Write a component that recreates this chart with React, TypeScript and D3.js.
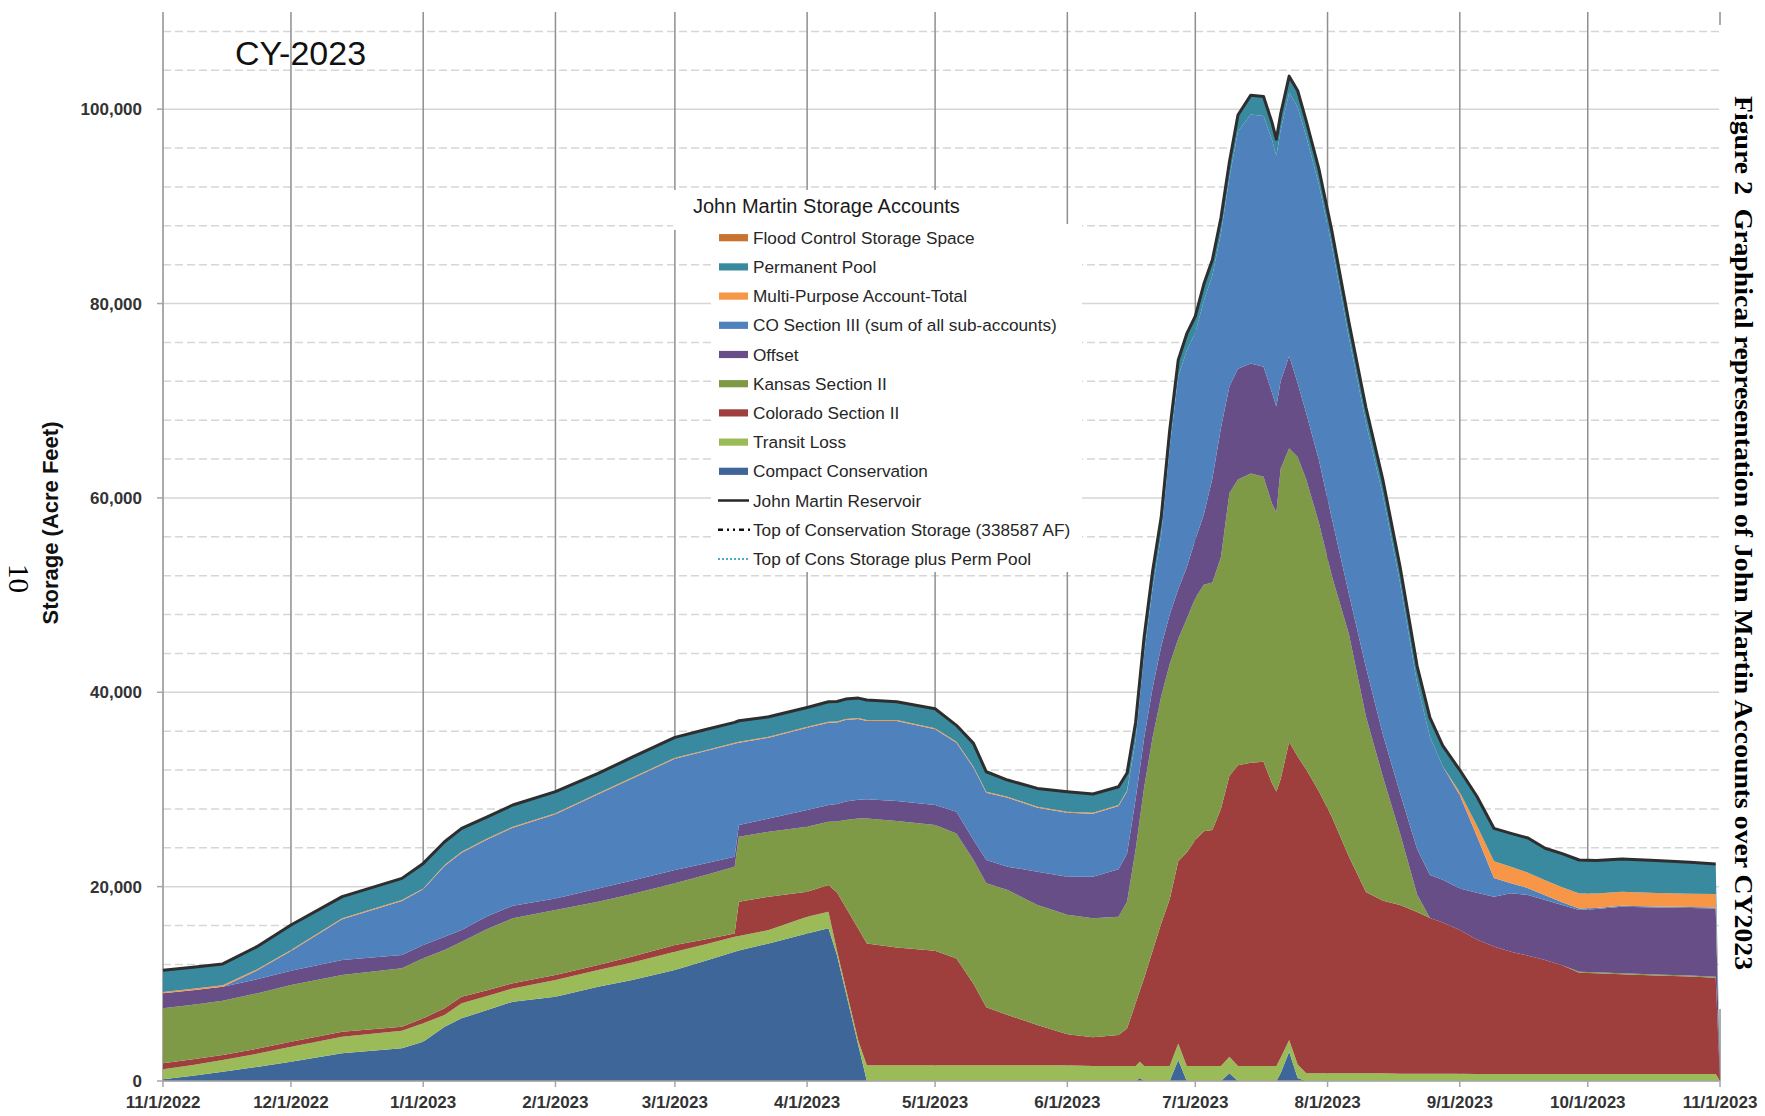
import React from 'react'
import * as d3 from 'd3'

// sample dates (daily record thinned to the points where the shape changes)
const DATES = [
  '2022-11-01', '2022-11-08', '2022-11-15', '2022-11-23', '2022-12-01', '2022-12-13', '2022-12-27',
  '2023-01-01', '2023-01-06', '2023-01-10', '2023-01-16', '2023-01-22', '2023-02-01', '2023-02-11',
  '2023-02-19', '2023-03-01', '2023-03-08', '2023-03-15', '2023-03-16', '2023-03-23', '2023-04-01',
  '2023-04-06', '2023-04-08', '2023-04-10', '2023-04-13', '2023-04-15', '2023-04-22', '2023-05-01',
  '2023-05-06', '2023-05-10', '2023-05-13', '2023-05-18', '2023-05-25', '2023-06-01', '2023-06-07',
  '2023-06-13', '2023-06-15', '2023-06-17', '2023-06-18', '2023-06-19', '2023-06-21', '2023-06-23',
  '2023-06-25', '2023-06-27', '2023-06-29', '2023-07-01', '2023-07-03', '2023-07-05', '2023-07-07',
  '2023-07-09', '2023-07-11', '2023-07-14', '2023-07-17', '2023-07-19', '2023-07-20', '2023-07-21',
  '2023-07-23', '2023-07-25', '2023-07-27', '2023-07-30', '2023-08-02', '2023-08-06', '2023-08-10',
  '2023-08-14', '2023-08-18', '2023-08-22', '2023-08-25', '2023-08-28', '2023-09-01', '2023-09-05',
  '2023-09-09', '2023-09-13', '2023-09-17', '2023-09-21', '2023-09-25', '2023-09-29', '2023-10-03',
  '2023-10-09', '2023-10-17', '2023-10-25', '2023-10-31', '2023-11-01',
]

const COMPACT_CONSERVATION = [
  170, 550, 960, 1450, 1990, 2850, 3360,
  4050, 5590, 6450, 7300, 8160, 8680, 9700,
  10400, 11420, 12350, 13300, 13440, 14160, 15190,
  15710, 12940, 9240, 3690, 0, 0, 0,
  0, 0, 0, 0, 0, 0, 0,
  0, 0, 0, 300, 0, 0, 0,
  0, 2160, 0, 0, 0, 0, 0,
  790, 0, 0, 0, 0, 0, 800,
  3020, 300, 0, 0, 0, 0, 0,
  0, 0, 0, 0, 0, 0, 0,
  0, 0, 0, 0, 0, 0, 0,
  0, 0, 0, 0, 0,
]

const TRANSIT_LOSS = [
  1030, 1100, 1200, 1350, 1540, 1710, 1820,
  1880, 1200, 1540, 1450, 1370, 1710, 1720,
  1800, 1880, 1700, 1550, 1480, 1370, 1710,
  1710, 500, 450, 450, 1610, 1610, 1610,
  1610, 1610, 1610, 1610, 1610, 1610, 1540,
  1540, 1540, 1540, 1690, 1540, 1540, 1540,
  1540, 1710, 1540, 1540, 1540, 1540, 1540,
  1710, 1540, 1540, 1540, 1540, 1540, 1600,
  1200, 1400, 800, 800, 800, 800, 800,
  800, 750, 750, 750, 750, 750, 720,
  720, 720, 720, 720, 720, 720, 720,
  720, 720, 720, 720, 0,
]

const COLORADO_SECTION_II = [
  620, 580, 510, 510, 520, 520, 410,
  520, 690, 690, 600, 520, 510, 510,
  600, 690, 520, 340, 3530, 3430, 2580,
  2740, 5960, 8210, 11520, 12550, 12120, 11800,
  10990, 8390, 5970, 5180, 4150, 3190, 2960,
  3190, 3860, 6460, 7310, 9060, 11860, 14660,
  17160, 18730, 21960, 23260, 24160, 24280, 26460,
  28900, 30960, 31220, 31310, 29060, 28260, 28650,
  30680, 31700, 31250, 29000, 26400, 22300, 18650,
  17740, 17360, 16630, 16010, 15570, 14800, 13830,
  13110, 12580, 12180, 11730, 11180, 10430, 10380,
  10260, 10130, 10030, 9910, 0,
]

const KANSAS_SECTION_II = [
  5660, 5620, 5600, 5700, 5830, 5820, 6000,
  6170, 6000, 5650, 6300, 6690, 6690, 6520,
  6450, 6350, 6600, 6860, 6690, 6690, 6690,
  6520, 7300, 8950, 11340, 12860, 13030, 12930,
  12880, 12740, 12760, 12860, 12350, 12300, 12240,
  12170, 13050, 15800, 17700, 19600, 22000, 23400,
  24200, 22900, 24060, 24900, 25360, 25480, 25900,
  29100, 29400, 29740, 29320, 28800, 28700, 31950,
  30200, 30800, 29850, 27600, 24800, 22900, 18050,
  12720, 7370, 1820, 0, 0, 0, 0,
  0, 0, 0, 0, 0, 100, 100,
  100, 100, 100, 100, 0,
]

const OFFSET = [
  1540, 1500, 1430, 1450, 1470, 1550, 1370,
  1370, 1370, 1200, 1300, 1300, 1200, 1370,
  1370, 1370, 1200, 1030, 1200, 1370, 1710,
  1710, 1800, 1900, 1950, 1980, 2060, 2060,
  2220, 2050, 2400, 2400, 3430, 3920, 4280,
  4900, 4970, 5200, 5100, 5100, 5100, 5100,
  5100, 5100, 5300, 6000, 7240, 10700, 13300,
  11000, 11400, 11330, 11330, 11400, 10900, 9000,
  9500, 7600, 6800, 6440, 5900, 4130, 5080,
  4340, 4120, 4680, 4440, 4380, 4250, 4830,
  5130, 6010, 6240, 6170, 6200, 6340, 6500,
  6850, 6900, 6950, 7030, 0,
]

const CO_SECTION_III = [
  0, 0, 0, 900, 2030, 4190, 5560,
  5730, 7270, 7960, 7900, 8030, 8650, 9680,
  10500, 11450, 11550, 11620, 8470, 8300, 8470,
  8480, 8400, 8400, 8300, 8040, 8220, 7800,
  7100, 7450, 6920, 7100, 6580, 6590, 6480,
  6500, 6380, 6100, 7400, 8600, 10200, 11500,
  17200, 21900, 22340, 21300, 22000, 20900, 20000,
  21500, 24400, 25610, 25800, 26000, 25800, 25800,
  27100, 28400, 28500, 28360, 28000, 26370, 25120,
  24600, 21610, 17020, 14200, 11700, 9600, 5820,
  1940, 1030, 700, 500, 300, 170, 100,
  100, 100, 100, 100, 0,
]

const MULTI_PURPOSE = [
  150, 150, 150, 120, 100, 100, 100,
  100, 100, 100, 100, 100, 100, 100,
  100, 100, 100, 100, 100, 100, 100,
  100, 100, 100, 100, 100, 100, 100,
  100, 100, 100, 100, 100, 100, 100,
  100, 100, 0, 0, 0, 0, 0,
  0, 0, 0, 0, 0, 0, 0,
  0, 0, 0, 0, 0, 0, 0,
  0, 0, 0, 0, 0, 0, 0,
  0, 0, 0, 0, 0, 300, 1100,
  1700, 1710, 1600, 1540, 1540, 1540, 1500,
  1440, 1400, 1370, 1370, 0,
]

const PERMANENT_POOL = [
  2230, 2200, 2200, 2340, 2570, 2230, 2230,
  2570, 2400, 2400, 2240, 2230, 2230, 2050,
  2100, 2100, 2130, 2100, 2160, 2060, 1990,
  2050, 2050, 2050, 2050, 2060, 1890, 2000,
  1700, 2400, 2060, 1720, 1890, 2060, 1930,
  1880, 1800, 1800, 1800, 1800, 1800, 1800,
  1800, 1700, 1700, 1700, 1700, 1600, 1600,
  1600, 1700, 2000, 2000, 1800, 1700, 1700,
  1700, 1700, 1600, 1600, 1600, 1600, 1600,
  1600, 1700, 1800, 2000, 2100, 2300, 3000,
  3400, 3430, 3560, 3290, 3460, 3440, 3400,
  3370, 3350, 3230, 3100, 0,
]

const X_TICKS = [
  '11/1/2022', '12/1/2022', '1/1/2023', '2/1/2023', '3/1/2023', '4/1/2023', '5/1/2023',
  '6/1/2023', '7/1/2023', '8/1/2023', '9/1/2023', '10/1/2023', '11/1/2023',
]
const Y_TICKS = [0, 20000, 40000, 60000, 80000, 100000]

const SERIES = [
  { key: 'compact', values: COMPACT_CONSERVATION, color: '#3E6698' },
  { key: 'transit', values: TRANSIT_LOSS, color: '#9BBB59' },
  { key: 'coSec2', values: COLORADO_SECTION_II, color: '#9E3E3D' },
  { key: 'ksSec2', values: KANSAS_SECTION_II, color: '#7E9A47' },
  { key: 'offset', values: OFFSET, color: '#674E87' },
  { key: 'coSec3', values: CO_SECTION_III, color: '#4F81BD' },
  { key: 'multi', values: MULTI_PURPOSE, color: '#F79646' },
  { key: 'perm', values: PERMANENT_POOL, color: '#3A8A9F' },
]

const LEGEND = [
  { label: 'Flood Control Storage Space', color: '#C8732F', kind: 'box' },
  { label: 'Permanent Pool', color: '#3A8A9F', kind: 'box' },
  { label: 'Multi-Purpose Account-Total', color: '#F79646', kind: 'box' },
  { label: 'CO Section III (sum of all sub-accounts)', color: '#4F81BD', kind: 'box' },
  { label: 'Offset', color: '#674E87', kind: 'box' },
  { label: 'Kansas Section II', color: '#7E9A47', kind: 'box' },
  { label: 'Colorado Section II', color: '#9E3E3D', kind: 'box' },
  { label: 'Transit Loss', color: '#9BBB59', kind: 'box' },
  { label: 'Compact Conservation', color: '#3E6698', kind: 'box' },
  { label: 'John Martin Reservoir', color: '#262626', kind: 'solid' },
  { label: 'Top of Conservation Storage (338587 AF)', color: '#111111', kind: 'dashdot' },
  { label: 'Top of Cons Storage plus Perm Pool', color: '#4BACC6', kind: 'dot' },
]

const SANS = 'Liberation Sans, Arial, Helvetica, sans-serif'
const SERIF = 'Liberation Serif, Times New Roman, serif'

export default function App() {
  const width = 1765
  const height = 1116
  const plot = { left: 163, right: 1720, top: 12, bottom: 1081 }

  const parseDay = d3.timeParse('%Y-%m-%d')
  const parseTick = d3.timeParse('%m/%d/%Y')

  const rows = DATES.map((d, i) => {
    const row: any = { date: parseDay(d) }
    SERIES.forEach((s) => (row[s.key] = s.values[i]))
    return row
  })

  const xScale = d3
    .scaleTime()
    .domain([parseTick('11/1/2022')!, parseTick('11/1/2023')!])
    .range([plot.left, plot.right])

  const yScale = d3.scaleLinear().domain([0, 110000]).range([plot.bottom, plot.top])

  const stacked = d3.stack().keys(SERIES.map((s) => s.key))(rows)

  const area = d3
    .area<any>()
    .x((d) => xScale(d.data.date))
    .y0((d) => yScale(d[0]))
    .y1((d) => yScale(d[1]))

  const top = stacked[stacked.length - 1]
  const totalLine = d3
    .line<any>()
    .defined((d) => d[1] > 0)
    .x((d) => xScale(d.data.date))
    .y((d) => yScale(d[1]))

  const minorTicks = d3.range(4000, 110000, 4000).filter((v) => v % 20000 !== 0)

  const legendRowY = (i: number) => 237.7 + i * 29.2

  return (
    <svg
      width={width}
      height={height}
      style={{ position: 'absolute', left: 0, top: 0, display: 'block', background: '#fff' }}
    >
      <rect width={width} height={height} fill='#fff' />

      {/* grid */}
      {minorTicks.map((v) => (
        <line
          key={'m' + v}
          x1={plot.left}
          x2={plot.right}
          y1={yScale(v)}
          y2={yScale(v)}
          stroke='#d6d6d6'
          strokeWidth={1.5}
          strokeDasharray='8 4'
        />
      ))}
      {Y_TICKS.map((v) => (
        <line
          key={'g' + v}
          x1={plot.left}
          x2={plot.right}
          y1={yScale(v)}
          y2={yScale(v)}
          stroke='#d6d6d6'
          strokeWidth={1.5}
        />
      ))}
      {X_TICKS.map((t) => (
        <line
          key={'v' + t}
          x1={xScale(parseTick(t)!)}
          x2={xScale(parseTick(t)!)}
          y1={plot.top}
          y2={plot.bottom}
          stroke='#8f8f8f'
          strokeWidth={1.5}
        />
      ))}

      {/* legend background */}
      <rect x={673} y={190} width={389} height={40} fill='#fff' />
      <rect x={711} y={224} width={371} height={348} fill='#fff' />

      {/* stacked accounts */}
      {stacked.map((layer, i) => (
        <path key={layer.key} d={area(layer) || ''} fill={SERIES[i].color} />
      ))}

      {/* reservoir total */}
      <path
        d={totalLine(top as any) || ''}
        fill='none'
        stroke='#2e2e2e'
        strokeWidth={3}
        strokeLinejoin='round'
      />

      {/* axes */}
      <line x1={plot.left} x2={plot.right} y1={plot.bottom} y2={plot.bottom} stroke='#a6a6a6' strokeWidth={1.5} />
      {X_TICKS.map((t) => {
        const x = xScale(parseTick(t)!)
        return (
          <g key={'xt' + t}>
            <line x1={x} x2={x} y1={plot.bottom} y2={plot.bottom + 6} stroke='#a6a6a6' strokeWidth={1.5} />
            <text
              x={x}
              y={1108}
              textAnchor='middle'
              fontFamily={SANS}
              fontWeight='bold'
              fontSize={17}
              fill='#333'
            >
              {t}
            </text>
          </g>
        )
      })}
      {Y_TICKS.map((v) => (
        <g key={'yt' + v}>
          <line
            x1={plot.left - 6}
            x2={plot.left}
            y1={yScale(v)}
            y2={yScale(v)}
            stroke='#a6a6a6'
            strokeWidth={1.5}
          />
          <text
            x={142}
            y={yScale(v) + 6}
            textAnchor='end'
            fontFamily={SANS}
            fontWeight='bold'
            fontSize={17}
            fill='#333'
          >
            {d3.format(',')(v)}
          </text>
        </g>
      ))}

      <text
        transform='translate(58, 523) rotate(-90)'
        textAnchor='middle'
        fontFamily={SANS}
        fontWeight='bold'
        fontSize={22}
        fill='#111'
      >
        Storage (Acre Feet)
      </text>

      <text x={235} y={65} fontFamily={SANS} fontSize={34} fill='#111'>
        CY-2023
      </text>

      {/* legend */}
      <text x={693} y={213} fontFamily={SANS} fontSize={20} fill='#1a1a1a'>
        John Martin Storage Accounts
      </text>
      {LEGEND.map((item, i) => {
        const cy = legendRowY(i)
        return (
          <g key={item.label}>
            {item.kind === 'box' && <rect x={719} y={cy - 3.6} width={29} height={7.2} fill={item.color} />}
            {item.kind === 'solid' && (
              <line x1={718} x2={749} y1={cy} y2={cy} stroke={item.color} strokeWidth={2.5} />
            )}
            {item.kind === 'dashdot' && (
              <line
                x1={718}
                x2={750}
                y1={cy}
                y2={cy}
                stroke={item.color}
                strokeWidth={2.5}
                strokeDasharray='5 4 2 4 2 4'
              />
            )}
            {item.kind === 'dot' && (
              <line
                x1={718}
                x2={749}
                y1={cy}
                y2={cy}
                stroke={item.color}
                strokeWidth={2}
                strokeDasharray='2 2'
              />
            )}
            <text x={753} y={cy + 6} fontFamily={SANS} fontSize={17.2} fill='#262626'>
              {item.label}
            </text>
          </g>
        )
      })}

      {/* page furniture */}
      <rect x={1719} y={25} width={46} height={984} fill='#fff' />
      <text
        transform='translate(1735, 96) rotate(90)'
        fontFamily={SERIF}
        fontWeight='bold'
        fontSize={25}
        textLength={874}
        lengthAdjust='spacingAndGlyphs'
        xmlSpace='preserve'
        style={{ whiteSpace: 'pre' }}
        fill='#000'
      >
        {'Figure 2  Graphical representation of John Martin Accounts over CY2023'}
      </text>
      <text
        transform='translate(9, 578.5) rotate(90)'
        textAnchor='middle'
        fontFamily={SERIF}
        fontSize={29}
        fill='#000'
      >
        10
      </text>
    </svg>
  )
}
